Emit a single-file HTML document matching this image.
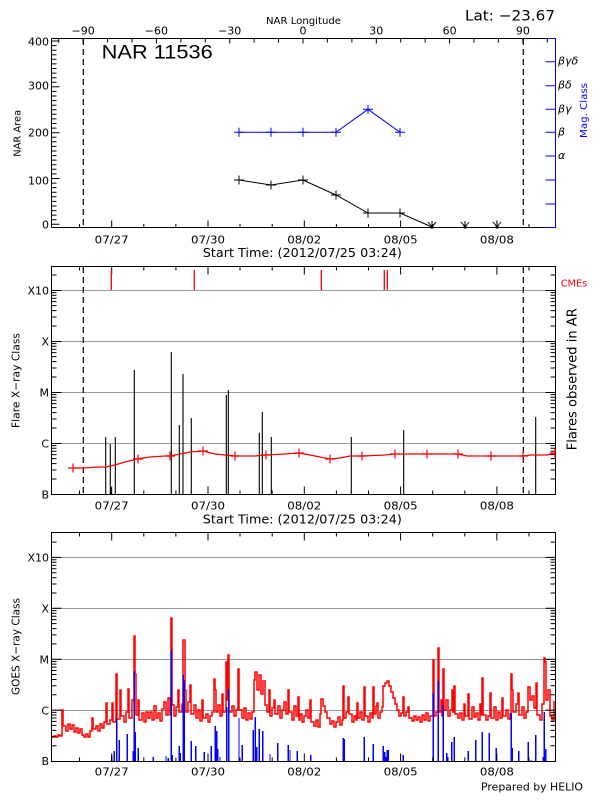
<!DOCTYPE html>
<html><head><meta charset="utf-8"><style>
html,body{margin:0;padding:0;background:#fff;}
svg{display:block;}
text{font-family:"DejaVu Sans","Liberation Sans",sans-serif;font-size:11px;fill:#000;}
</style></head><body>
<svg width="600" height="800" viewBox="0 0 600 800">
<rect x="0" y="0" width="600" height="800" fill="#fff"/>

<!-- ================= PANEL 1 ================= -->
<text x="303.5" y="24" text-anchor="middle" style="font-size:10px" textLength="75" lengthAdjust="spacingAndGlyphs">NAR Longitude</text>
<text x="465" y="20.5" style="font-size:14.5px" textLength="90" lengthAdjust="spacingAndGlyphs">Lat: −23.67</text>
<text x="101.7" y="58.3" style="font-size:19.5px;font-family:'Liberation Sans',sans-serif" textLength="111" lengthAdjust="spacingAndGlyphs">NAR 11536</text>

<g style="font-size:11px" text-anchor="middle">
<text x="83.1" y="34.7">−90</text>
<text x="156.4" y="34.7">−60</text>
<text x="229.7" y="34.7">−30</text>
<text x="303" y="34.7">0</text>
<text x="376.3" y="34.7">30</text>
<text x="449.6" y="34.7">60</text>
<text x="522.9" y="34.7">90</text>
</g>
<g text-anchor="end">
<text x="49" y="45.7">400</text>
<text x="49" y="89.3">300</text>
<text x="49" y="136.3">200</text>
<text x="49" y="184.3">100</text>
<text x="49" y="228.3">0</text>
</g>
<g text-anchor="middle">
<text x="111.7" y="243.3" textLength="34" lengthAdjust="spacingAndGlyphs">07/27</text>
<text x="208" y="243.3" textLength="34" lengthAdjust="spacingAndGlyphs">07/30</text>
<text x="304.3" y="243.3" textLength="34" lengthAdjust="spacingAndGlyphs">08/02</text>
<text x="400.6" y="243.3" textLength="34" lengthAdjust="spacingAndGlyphs">08/05</text>
<text x="496.9" y="243.3" textLength="34" lengthAdjust="spacingAndGlyphs">08/08</text>
<text x="302.3" y="257" style="font-size:12px" textLength="199" lengthAdjust="spacingAndGlyphs">Start Time: (2012/07/25 03:24)</text>
</g>
<text x="20.5" y="133.3" text-anchor="middle" transform="rotate(-90 20.5 133.3)" style="font-size:10px" textLength="47" lengthAdjust="spacingAndGlyphs">NAR Area</text>
<text x="587" y="110.5" text-anchor="middle" transform="rotate(-90 587 110.5)" style="font-size:10px;fill:#00f" textLength="55" lengthAdjust="spacingAndGlyphs">Mag. Class</text>
<g style="font-size:11px;font-style:italic;fill:#00f">
<text x="558" y="64.7">βγδ</text>
<text x="558" y="88.7">βδ</text>
<text x="558" y="112.3">βγ</text>
<text x="558" y="135.3">β</text>
<text x="558" y="159">α</text>
</g>

<path d="M51.5 38.5H547 M51.5 227.5H545 M51.5 38.5V227.5" stroke="#000" stroke-width="1" fill="none"/>
<path d="M547 38.5H555.5V227.5H545" stroke="#00f" stroke-width="1" fill="none"/>
<path stroke="#000" stroke-width="1" fill="none" d="M51.5 224.3h8M51.5 219.7h5M51.5 215.1h5M51.5 210.6h5M51.5 206h5M51.5 201.4h5M51.5 196.8h5M51.5 192.2h5M51.5 187.6h5M51.5 183.1h5M51.5 178.5h8M51.5 173.9h5M51.5 169.3h5M51.5 164.7h5M51.5 160.1h5M51.5 155.6h5M51.5 151h5M51.5 146.4h5M51.5 141.8h5M51.5 137.2h5M51.5 132.7h8M51.5 128.1h5M51.5 123.5h5M51.5 118.9h5M51.5 114.3h5M51.5 109.7h5M51.5 105.2h5M51.5 100.6h5M51.5 96h5M51.5 91.4h5M51.5 86.8h8M51.5 82.2h5M51.5 77.7h5M51.5 73.1h5M51.5 68.5h5M51.5 63.9h5M51.5 59.3h5M51.5 54.8h5M51.5 50.2h5M51.5 45.6h5M51.5 41h8"/>
<path stroke="#000" stroke-width="1" fill="none" d="M79.5 227.5v-3.5M111.7 227.5v-7M143.8 227.5v-3.5M175.9 227.5v-3.5M208 227.5v-7M240 227.5v-3.5M272.2 227.5v-3.5M304.3 227.5v-7M336.4 227.5v-3.5M368.5 227.5v-3.5M400.6 227.5v-7M432.7 227.5v-3.5M464.8 227.5v-3.5M496.9 227.5v-7M529 227.5v-3.5"/>
<path stroke="#000" stroke-width="1" fill="none" d="M58.7 38.5v4M83.1 38.5v5M107.6 38.5v4M132 38.5v4M156.4 38.5v5M180.9 38.5v4M205.3 38.5v4M229.7 38.5v5M254.1 38.5v4M278.6 38.5v4M303 38.5v5M327.4 38.5v4M351.9 38.5v4M376.3 38.5v5M400.7 38.5v4M425.2 38.5v4M449.6 38.5v5M474 38.5v4M498.4 38.5v4M522.9 38.5v5M547.3 38.5v4"/>
<path stroke="#00f" stroke-width="1" fill="none" d="M555.5 61.7h-10M555.5 85.7h-10M555.5 109.3h-10M555.5 132.3h-10M555.5 156h-10M555.5 180h-10M555.5 204h-10"/>
<path stroke="#000" stroke-width="1.2" stroke-dasharray="6 4" fill="none" d="M83.3 39V227M523.3 39V227"/>
<polyline fill="none" stroke="#000" stroke-width="1" points="239,180 271,185 303,180 336,195 368,213 400,213 432,227"/>
<path stroke="#000" stroke-width="1" fill="none" d="M234 180h10M239 175.5v9M266 185h10M271 180.5v9M298 180h10M303 175.5v9M331 195h10M336 190.5v9M363 213h10M368 208.5v9M395 213h10M400 208.5v9"/>
<path stroke="#000" stroke-width="1" fill="none" d="M428 222L432 227L436 222M432 221V227M461 222L465 227L469 222M465 221V227M493 222L497 227L501 222M497 221V227"/>
<path fill="#000" d="M430.5 225.5h3v3h-3zM463.5 225.5h3v3h-3zM495.5 225.5h3v3h-3z"/>
<polyline fill="none" stroke="#00f" stroke-width="1" points="239,132.3 271,132.3 303,132.3 336,132.3 368,109.3 400,132.3"/>
<path stroke="#00f" stroke-width="1" fill="none" d="M234 132.3h10M239 127.8v9M266 132.3h10M271 127.8v9M298 132.3h10M303 127.8v9M331 132.3h10M336 127.8v9M363 109.3h10M368 104.8v9M395 132.3h10M400 127.8v9"/>

<!-- ================= PANEL 2 ================= -->
<path stroke="#999" stroke-width="1" fill="none" d="M51.5 290.5H555.5M51.5 341.5H555.5M51.5 392.5H555.5M51.5 443.5H555.5"/>
<path d="M51.5 266.5H555.5V494.5H51.5Z" stroke="#000" stroke-width="1" fill="none"/>
<path stroke="#000" stroke-width="1" fill="none" d="M79.5 266.5v4M111.7 266.5v8M143.8 266.5v4M175.9 266.5v4M208 266.5v8M240 266.5v4M272.2 266.5v4M304.3 266.5v8M336.4 266.5v4M368.5 266.5v4M400.6 266.5v8M432.7 266.5v4M464.8 266.5v4M496.9 266.5v8M529 266.5v4
M79.5 494.5v-4M111.7 494.5v-8M143.8 494.5v-4M175.9 494.5v-4M208 494.5v-8M240 494.5v-4M272.2 494.5v-4M304.3 494.5v-8M336.4 494.5v-4M368.5 494.5v-4M400.6 494.5v-8M432.7 494.5v-4M464.8 494.5v-4M496.9 494.5v-8M529 494.5v-4"/>
<path stroke="#000" stroke-width="1" fill="none" d="M51.5 443.5h10M51.5 392.5h10M51.5 341.5h10M51.5 290.5h10
M51.5 479h5M51.5 470h5M51.5 463.6h5M51.5 458.6h5M51.5 454.6h5M51.5 451.2h5M51.5 448.2h5M51.5 445.6h5
M51.5 428h5M51.5 419h5M51.5 412.6h5M51.5 407.6h5M51.5 403.6h5M51.5 400.2h5M51.5 397.2h5M51.5 394.6h5
M51.5 377h5M51.5 368h5M51.5 361.6h5M51.5 356.6h5M51.5 352.6h5M51.5 349.2h5M51.5 346.2h5M51.5 343.6h5
M51.5 326h5M51.5 317h5M51.5 310.6h5M51.5 305.6h5M51.5 301.6h5M51.5 298.2h5M51.5 295.2h5M51.5 292.6h5
M51.5 275h5
M555.5 443.5h-10M555.5 392.5h-10M555.5 341.5h-10M555.5 290.5h-10
M555.5 479h-5M555.5 470h-5M555.5 463.6h-5M555.5 458.6h-5M555.5 454.6h-5M555.5 451.2h-5M555.5 448.2h-5M555.5 445.6h-5
M555.5 428h-5M555.5 419h-5M555.5 412.6h-5M555.5 407.6h-5M555.5 403.6h-5M555.5 400.2h-5M555.5 397.2h-5M555.5 394.6h-5
M555.5 377h-5M555.5 368h-5M555.5 361.6h-5M555.5 356.6h-5M555.5 352.6h-5M555.5 349.2h-5M555.5 346.2h-5M555.5 343.6h-5
M555.5 326h-5M555.5 317h-5M555.5 310.6h-5M555.5 305.6h-5M555.5 301.6h-5M555.5 298.2h-5M555.5 295.2h-5M555.5 292.6h-5
M555.5 275h-5"/>
<path stroke="#000" stroke-width="1.2" stroke-dasharray="6 4" fill="none" d="M83.3 267V494M523.3 267V494"/>
<path stroke="#f00" stroke-width="1.3" fill="none" d="M111.3 270V290M194.3 270V290M321.3 270V290M384.3 270V290M387.3 270V290"/>
<path stroke="#000" stroke-width="1.1" fill="none" d="M105.7 494V437M110.3 494V444M111.3 494V488M115.3 494V437M134.3 494V370M171.3 494V352M179.3 494V425M183 494V374M191.3 494V418M226.3 494V395M228.3 494V390M259.3 494V432.7M262.3 494V412M271.3 494V437M351.3 494V437M403.7 494V430M535.7 494V417"/>
<polyline fill="none" stroke="#f00" stroke-width="1.2" points="73,468 84,468 100,467 106,467 115,465 125,462 137,459 150,457 165,456 170,456 180,454 190,452 203,451 207,452 215,454 225,455 235,456 255,456 266,455 285,454 299,453 310,455 320,457 330,459 340,458 350,456 362,456 385,455 395,454 458,454 467,456 523,456 531,455 547,455 555,453"/>
<path stroke="#f00" stroke-width="1.2" fill="none" d="M68 468h10M73 463.5v9M133 459h10M138 454.5v9M165 456h10M170 451.5v9M198 451h10M203 446.5v9M230 456h10M235 451.5v9M261 455h10M266 450.5v9M294 453h10M299 448.5v9M325 459h10M330 454.5v9M357 456h10M362 451.5v9M390 454h10M395 449.5v9M422 454h10M427 449.5v9M453 454h10M458 449.5v9M486 456h10M491 451.5v9M518 456h10M523 451.5v9M550 453h5M555 448.5v9"/>
<g text-anchor="end">
<text x="49" y="294.3">X10</text>
<text x="49" y="345.3">X</text>
<text x="49" y="396.3">M</text>
<text x="49" y="447.3">C</text>
<text x="49" y="498.3">B</text>
</g>
<text x="560.7" y="286.7" style="font-size:10px;fill:#f00" textLength="26.6" lengthAdjust="spacingAndGlyphs">CMEs</text>
<text x="576.7" y="379.2" text-anchor="middle" transform="rotate(-90 576.7 379.2)" style="font-size:13px" textLength="142" lengthAdjust="spacingAndGlyphs">Flares observed in AR</text>
<text x="19.5" y="380.5" text-anchor="middle" transform="rotate(-90 19.5 380.5)" style="font-size:11px" textLength="95" lengthAdjust="spacingAndGlyphs">Flare X−ray Class</text>
<g text-anchor="middle">
<text x="111.7" y="509.7" textLength="34" lengthAdjust="spacingAndGlyphs">07/27</text>
<text x="208" y="509.7" textLength="34" lengthAdjust="spacingAndGlyphs">07/30</text>
<text x="304.3" y="509.7" textLength="34" lengthAdjust="spacingAndGlyphs">08/02</text>
<text x="400.6" y="509.7" textLength="34" lengthAdjust="spacingAndGlyphs">08/05</text>
<text x="496.9" y="509.7" textLength="34" lengthAdjust="spacingAndGlyphs">08/08</text>
<text x="302.3" y="523.7" style="font-size:12px" textLength="199" lengthAdjust="spacingAndGlyphs">Start Time: (2012/07/25 03:24)</text>
</g>

<!-- ================= PANEL 3 ================= -->
<path stroke="#999" stroke-width="1" fill="none" d="M51.5 557.5H555.5M51.5 608.5H555.5M51.5 659.5H555.5M51.5 710.5H555.5"/>
<path fill="none" stroke="#f00" stroke-width="1.5" d="M52 737H54V736H56V737H58V735H60V736H62V710H63V726H66V731H68V724H70V729H72V725H74V732H76V728H78V733H80V729H82V735H84V737H86V734H88V737H90V731H92V718H93V729H96V726H98V731H100V724
H102V728H104V722H106V703H107V724H110V720H112V703H113V722H116V674H117V719H120V690H121V716H124V722H126V712H128V689H129V718H132V700H134V636H135V674H136V715H138V700H139V720H142V713H144V722H146V712H148V718H150V712
H152V720H154V706H156V718H158V713H160V721H162V709H164V702H166V715H168V698H170V715H171V618H172V705H174V716H176V707H178V690H179V712H182V704H183V640H185V690H186V712H188V702H190V685H191V714H194V705H196V718H198V710H200V721
H202V700H203V718H206V714H208V722H210V716H212V712H214V679H215V690H216V712H218V705H220V716H222V694H223V712H226V662H227V700H228V655H229V712H232V706H234V716H236V710H238V669H239V710H242V718H244V708H246V720H248V713H250V719
H252V712H254V680H255V672H257V690H259V675H261V694H263V681H265V705H267V712H269V690H270V716H272V708H274V700H275V714H278V706H280V718H282V710H284V702H286V714H288V690H289V712H292V720H294V706H296V716H298V697H299V720H300V714
H302V722H304V716H306V710H308V718H310V700H311V722H314V726H316V720H318V727H320V714H321V699H323V706H325V712H327V718H330V724H332V721H334V727H336V722H338V717H340V725H342V720H343V686H344V718H346V712H348V697H349V714H352V722
H354V716H356V720H357V703H358V718H360V712H362V720H364V687H365V716H368V722H370V713H372V718H373V687H374V714H376V706H377V703H378V718H380V712H382V707H383V686H385V683H387V681H389V686H391V692H393V698H395V704H397V710H399V716H401V713
H403V697H404V716H406V712H408V707H409V718H412V721H414V716H416V720H418V717H420V722H422V715H424V720H426V713H428V721H430V716H433V660H434V716H436V712H438V648H439V712H441V700H442V716H443V669H444V710H446V700H448V716H450V710
H452V690H453V712H454V686H455V714H458V718H460V713H462V720H464V704H465V716H468V694H469V719H472V707H474V717H476V713H478V720H480V704H481V715H482V678H483V715H486V720H488V716H490V693H491V718H494V707H496V720H498V712H500V718
H502V698H503V716H506V710H508V719H510V714H511V674H512V690H513V712H516V704H518V693H519V715H522V707H524V718H526V712H528V687H530V700H532V696H534V708H536V683H537V715H540V720H542V704H544V658H545V662H546V700H548V690H550V716H552V720H554V702H555"/>
<path fill="none" stroke="#00f" stroke-width="1.4" shape-rendering="crispEdges" d="M111.7 761V756M114.3 761V751M116.7 761V719M119.3 761V740M127.3 761V734M133.3 761V751M134.3 761V671M135.3 761V732M138.3 761V748M153.3 761V757M166 761V756M168.3 761V758M171.3 761V650M172.3 761V755M179.3 761V746M180.3 761V753M183.3 761V675M184.3 761V680M191.3 761V741M195.7 761V746M204.3 761V752M211.3 761V746M215.3 761V726M216.7 761V731M217.7 761V749M220 761V757M226.7 761V707M228.7 761V689M239 761V718M242.3 761V745M253.3 761V730M255.3 761V717M256.7 761V747M259.3 761V729M262.7 761V731M270 761V754M277.7 761V743M288.3 761V745M290 761V750M297.3 761V751
M310.7 761V755M343.3 761V738M344.3 761V739M364.3 761V737M373.3 761V744M383.3 761V746M384.7 761V752M386 761V757M387.3 761V750M388.3 761V750M403.3 761V755M433.3 761V693M438.3 761V681M443.3 761V705M446.7 761V753M447.7 761V757M451.7 761V742M454.3 761V737M468.3 761V751M475.7 761V740M482.3 761V732M489.3 761V733M496.3 761V748M511.3 761V713M512.3 761V748M518.7 761V751M528.3 761V742M531 761V760M535.7 761V735M543.3 761V757M544.3 761V712M545.7 761V749"/>
<path d="M51.5 532.5H555.5V761.5H51.5Z" stroke="#000" stroke-width="1" fill="none"/>
<path stroke="#000" stroke-width="1" fill="none" d="M79.5 532.5v4M111.7 532.5v8M143.8 532.5v4M175.9 532.5v4M208 532.5v8M240 532.5v4M272.2 532.5v4M304.3 532.5v8M336.4 532.5v4M368.5 532.5v4M400.6 532.5v8M432.7 532.5v4M464.8 532.5v4M496.9 532.5v8M529 532.5v4
M79.5 761.5v-4M111.7 761.5v-8M143.8 761.5v-4M175.9 761.5v-4M208 761.5v-8M240 761.5v-4M272.2 761.5v-4M304.3 761.5v-8M336.4 761.5v-4M368.5 761.5v-4M400.6 761.5v-8M432.7 761.5v-4M464.8 761.5v-4M496.9 761.5v-8M529 761.5v-4"/>
<path stroke="#000" stroke-width="1" fill="none" d="M51.5 710.1h10M51.5 659.2h10M51.5 608.3h10M51.5 557.4h10
M51.5 745.7h5M51.5 736.7h5M51.5 730.4h5M51.5 725.4h5M51.5 721.4h5M51.5 718h5M51.5 715h5M51.5 712.4h5
M51.5 694.8h5M51.5 685.8h5M51.5 679.5h5M51.5 674.5h5M51.5 670.5h5M51.5 667.1h5M51.5 664.1h5M51.5 661.5h5
M51.5 643.9h5M51.5 634.9h5M51.5 628.6h5M51.5 623.6h5M51.5 619.6h5M51.5 616.2h5M51.5 613.2h5M51.5 610.6h5
M51.5 593h5M51.5 584h5M51.5 577.7h5M51.5 572.7h5M51.5 568.7h5M51.5 565.3h5M51.5 562.3h5M51.5 559.7h5
M51.5 542.1h5
M555.5 710.1h-10M555.5 659.2h-10M555.5 608.3h-10M555.5 557.4h-10
M555.5 745.7h-5M555.5 736.7h-5M555.5 730.4h-5M555.5 725.4h-5M555.5 721.4h-5M555.5 718h-5M555.5 715h-5M555.5 712.4h-5
M555.5 694.8h-5M555.5 685.8h-5M555.5 679.5h-5M555.5 674.5h-5M555.5 670.5h-5M555.5 667.1h-5M555.5 664.1h-5M555.5 661.5h-5
M555.5 643.9h-5M555.5 634.9h-5M555.5 628.6h-5M555.5 623.6h-5M555.5 619.6h-5M555.5 616.2h-5M555.5 613.2h-5M555.5 610.6h-5
M555.5 593h-5M555.5 584h-5M555.5 577.7h-5M555.5 572.7h-5M555.5 568.7h-5M555.5 565.3h-5M555.5 562.3h-5M555.5 559.7h-5
M555.5 542.1h-5"/>
<g text-anchor="end">
<text x="49" y="561.3">X10</text>
<text x="49" y="612.7">X</text>
<text x="49" y="663.3">M</text>
<text x="49" y="714.3">C</text>
<text x="49" y="765">B</text>
</g>
<text x="19.5" y="646.5" text-anchor="middle" transform="rotate(-90 19.5 646.5)" style="font-size:11px" textLength="97" lengthAdjust="spacingAndGlyphs">GOES X−ray Class</text>
<g text-anchor="middle">
<text x="111.7" y="775.7" textLength="34" lengthAdjust="spacingAndGlyphs">07/27</text>
<text x="208" y="775.7" textLength="34" lengthAdjust="spacingAndGlyphs">07/30</text>
<text x="304.3" y="775.7" textLength="34" lengthAdjust="spacingAndGlyphs">08/02</text>
<text x="400.6" y="775.7" textLength="34" lengthAdjust="spacingAndGlyphs">08/05</text>
<text x="496.9" y="775.7" textLength="34" lengthAdjust="spacingAndGlyphs">08/08</text>
</g>
<text x="481" y="790.7" style="font-size:10.5px" textLength="102" lengthAdjust="spacingAndGlyphs">Prepared by HELIO</text>
</svg>
</body></html>
